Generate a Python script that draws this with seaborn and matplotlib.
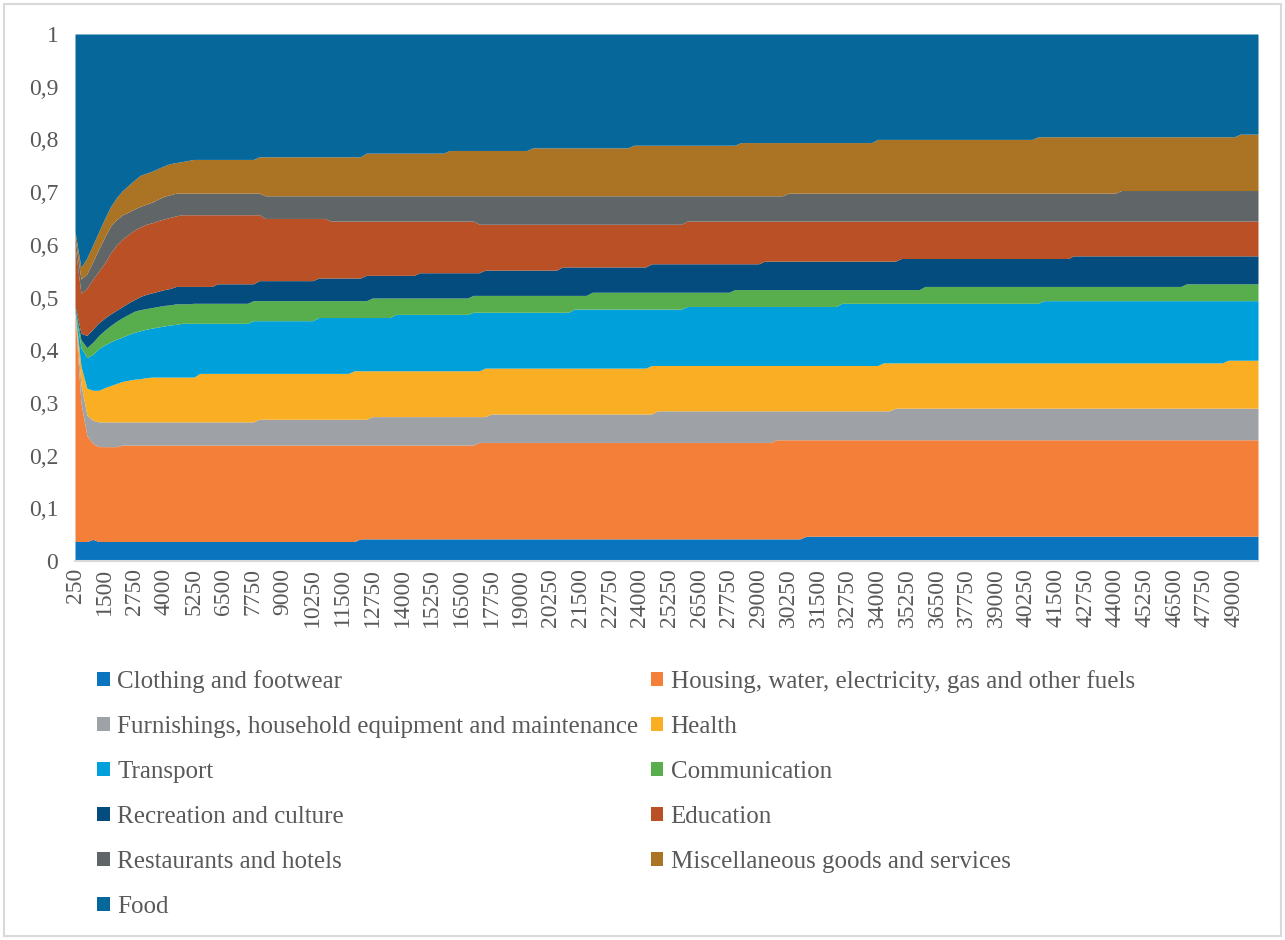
import numpy as np
import matplotlib
matplotlib.use("Agg")
import matplotlib.pyplot as plt
import seaborn as sns
from matplotlib.patches import Rectangle

# ---------------- data ----------------
# income categories (category axis), 250 .. 50000 in steps of 250
income = list(range(250, 50001, 250))

series_names = [
    "Clothing and footwear",
    "Housing, water, electricity, gas and other fuels",
    "Furnishings, household equipment and maintenance",
    "Health",
    "Transport",
    "Communication",
    "Recreation and culture",
    "Education",
    "Restaurants and hotels",
    "Miscellaneous goods and services",
    "Food",
]

# stacked upper edge of each band (cumulative share)
top_clothing = [0.037] * 3 + [0.041] + [0.037] * 44 + [0.042] * 75 + [0.047] * 77
top_housing = [0.465, 0.300, 0.238, 0.223] + [0.217] * 4 + [0.220] * 60 + [0.225] * 50 + [0.230] * 82
top_furnishings = [0.470, 0.335, 0.277, 0.267] + [0.264] * 27 + [0.269] * 19 + [0.274] * 20 \
    + [0.279] * 28 + [0.285] * 40 + [0.290] * 62
top_health = [0.474, 0.370, 0.328, 0.324, 0.324, 0.329, 0.333, 0.337, 0.341, 0.343, 0.345, 0.346, 0.348] \
    + [0.349] * 8 + [0.356] * 26 + [0.361] * 22 + [0.366] * 28 + [0.371] * 39 + [0.376] * 58 + [0.381] * 6
top_transport = [0.478, 0.405, 0.386, 0.392, 0.403, 0.410, 0.416, 0.421, 0.425, 0.430, 0.434, 0.437,
                 0.440, 0.442, 0.444, 0.446, 0.448, 0.449] \
    + [0.451] * 12 + [0.456] * 11 + [0.462] * 13 + [0.468] * 13 + [0.472] * 17 + [0.478] * 19 \
    + [0.483] * 26 + [0.489] * 34 + [0.494] * 37
top_communication = [0.481, 0.420, 0.405, 0.415, 0.428, 0.438, 0.447, 0.455, 0.462, 0.468, 0.474, 0.477,
                     0.479, 0.481, 0.483, 0.485, 0.486] \
    + [0.488] * 3 + [0.489] * 10 + [0.494] * 20 + [0.499] * 17 + [0.504] * 20 + [0.510] * 24 \
    + [0.515] * 32 + [0.521] * 44 + [0.526] * 13
top_recreation = [0.485, 0.432, 0.428, 0.440, 0.452, 0.461, 0.469, 0.476, 0.483, 0.490, 0.496, 0.502,
                  0.506, 0.509, 0.512, 0.515, 0.517] \
    + [0.521] * 7 + [0.526] * 7 + [0.532] * 10 + [0.537] * 8 + [0.542] * 9 + [0.547] * 11 + [0.552] * 13 \
    + [0.558] * 15 + [0.564] * 19 + [0.569] * 23 + [0.574] * 29 + [0.579] * 32
top_education = [0.597, 0.508, 0.518, 0.535, 0.550, 0.566, 0.585, 0.600, 0.611, 0.620, 0.628, 0.634,
                 0.639, 0.642, 0.646, 0.649, 0.652, 0.655] \
    + [0.657] * 14 + [0.650] * 11 + [0.645] * 25 + [0.639] * 35 + [0.645] * 97
top_restaurants = [0.612, 0.535, 0.545, 0.568, 0.592, 0.615, 0.636, 0.648, 0.657, 0.662, 0.668, 0.673,
                   0.677, 0.681, 0.687, 0.692, 0.695] \
    + [0.698] * 15 + [0.693] * 88 + [0.698] * 56 + [0.703] * 24
top_misc = [0.625, 0.557, 0.575, 0.600, 0.625, 0.650, 0.673, 0.690, 0.703, 0.713, 0.723, 0.732, 0.736,
            0.740, 0.745, 0.750, 0.754, 0.756, 0.758, 0.760] \
    + [0.762] * 11 + [0.767] * 18 + [0.774] * 14 + [0.779] * 14 + [0.784] * 17 + [0.789] * 18 \
    + [0.794] * 23 + [0.800] * 27 + [0.805] * 34 + [0.810] * 4
top_food = [1.0] * 200

colors = ["#0A74BE", "#F37F39", "#9EA2A6", "#F9AE24", "#00A0DA", "#58AE4C",
          "#044C7D", "#B95026", "#606567", "#AB7425", "#05679A"]

# ---------------- figure ----------------
sns.set_theme(style="white")
plt.rcParams["font.family"] = ["Liberation Serif", "DejaVu Serif"]
text_color = "#595959"

tops = np.array([top_clothing, top_housing, top_furnishings, top_health, top_transport,
                 top_communication, top_recreation, top_education, top_restaurants,
                 top_misc, top_food])
shares = np.diff(np.vstack([np.zeros(len(income)), tops]), axis=0)

fig = plt.figure(figsize=(12.85, 9.4), dpi=100)
ax = fig.add_axes([75 / 1285, 1 - 561 / 940, (1258 - 75) / 1285, (561 - 34) / 940])

polys = ax.stackplot(income, shares, colors=sns.color_palette(colors), labels=series_names,
                     linewidth=0)

ax.set_xlim(income[0], income[-1])
ax.set_ylim(0, 1)
ax.set_yticks(np.arange(0, 1.01, 0.1))
ax.set_yticklabels(["0"] + [f"0,{k}" for k in range(1, 10)] + ["1"])
ax.set_xticks(income[::5])
ax.set_xticklabels([str(v) for v in income[::5]], rotation=90)
ax.tick_params(axis="both", length=0, colors=text_color, labelsize=17)
ax.tick_params(axis="y", pad=12)
ax.tick_params(axis="x", pad=5)
for s in ["top", "right", "left"]:
    ax.spines[s].set_visible(False)
ax.spines["bottom"].set_color("#D9D9D9")
ax.spines["bottom"].set_linewidth(1.5)
ax.grid(False)

# legend: row-major order in two columns
order = [0, 2, 4, 6, 8, 10, 1, 3, 5, 7, 9]
handles = [polys[i] for i in order]
labels = [series_names[i] for i in order]
fig.legend(handles, labels, ncol=2, loc="upper left",
           bbox_to_anchor=(97 / 1285, 1 - 670 / 940), frameon=False,
           fontsize=18, labelcolor=text_color, handlelength=0.5, handleheight=0.5,
           handletextpad=0.3, columnspacing=0.5, labelspacing=0.92, borderpad=0,
           borderaxespad=0)

fig.patches.append(Rectangle((4 / 1285, 4 / 940), 1 - 8 / 1285, 1 - 8 / 940,
                             transform=fig.transFigure, fill=False,
                             edgecolor="#D9D9D9", linewidth=1.5))

fig.savefig("out.png", dpi=100, facecolor="white")
